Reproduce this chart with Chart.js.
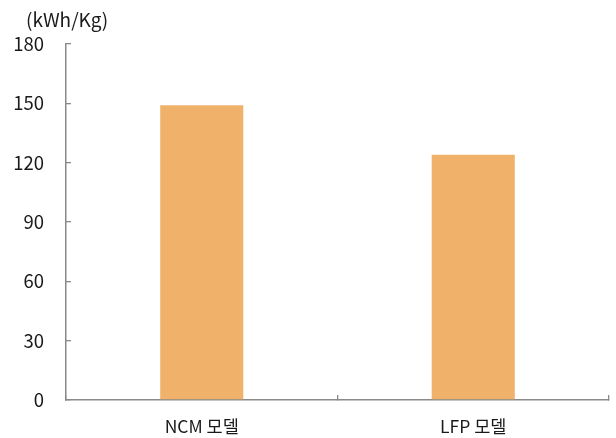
<!DOCTYPE html>
<html>
<head>
<meta charset="utf-8">
<script src="https://cdn.jsdelivr.net/npm/chart.js@4/dist/chart.umd.min.js"></script>
<style>
  html, body { margin: 0; padding: 0; background: #fff; }
  #wrap { width: 616px; height: 438px; }
</style>
</head>
<body>
<div id="wrap"><canvas id="c" width="616" height="438"></canvas></div>
<script>
// Battery pack energy density by cell chemistry
const categories = ['NCM 모델', 'LFP 모델'];
const energyDensity = [149, 124];
const unitLabel = '(kWh/Kg)';
const yMin = 0, yMax = 180, yStep = 30;

const FONT = '"Noto Sans CJK KR", "Noto Sans", sans-serif';
const AXIS = '#8a8a8a';
const TEXT = '#1a1a1a';

const unitPlugin = {
  id: 'unitLabel',
  afterDraw(chart) {
    const ctx = chart.ctx;
    ctx.save();
    ctx.font = '19px ' + FONT;
    ctx.fillStyle = TEXT;
    ctx.textAlign = 'left';
    ctx.textBaseline = 'middle';
    ctx.fillText(unitLabel, 26, 20);
    ctx.restore();
  }
};

new Chart(document.getElementById('c'), {
  type: 'bar',
  data: {
    labels: categories,
    datasets: [{
      data: energyDensity,
      backgroundColor: '#f0b26b',
      borderWidth: 0,
      categoryPercentage: 1,
      barPercentage: 0.306
    }]
  },
  options: {
    responsive: false,
    animation: false,
    devicePixelRatio: 1,
    layout: { padding: { top: 44, right: 7, bottom: 0, left: 0 } },
    plugins: { legend: { display: false }, tooltip: { enabled: false } },
    scales: {
      x: {
        afterFit(s) { s.height = 36; },
        grid: { display: true, drawOnChartArea: false, drawTicks: true, tickLength: -5, color: AXIS, lineWidth: 1.3, offset: true },
        border: { display: true, color: AXIS, width: 1.5 },
        ticks: { color: TEXT, font: { family: FONT, size: 17.5 }, padding: 21 }
      },
      y: {
        min: yMin, max: yMax,
        afterFit(s) { s.width = 66; },
        grid: { display: true, drawOnChartArea: false, drawTicks: true, tickLength: -5, color: AXIS, lineWidth: 1.3 },
        border: { display: true, color: AXIS, width: 1.5 },
        ticks: { stepSize: yStep, color: TEXT, font: { family: FONT, size: 18.5 }, padding: 27 }
      }
    }
  },
  plugins: [unitPlugin]
});
</script>
</body>
</html>
